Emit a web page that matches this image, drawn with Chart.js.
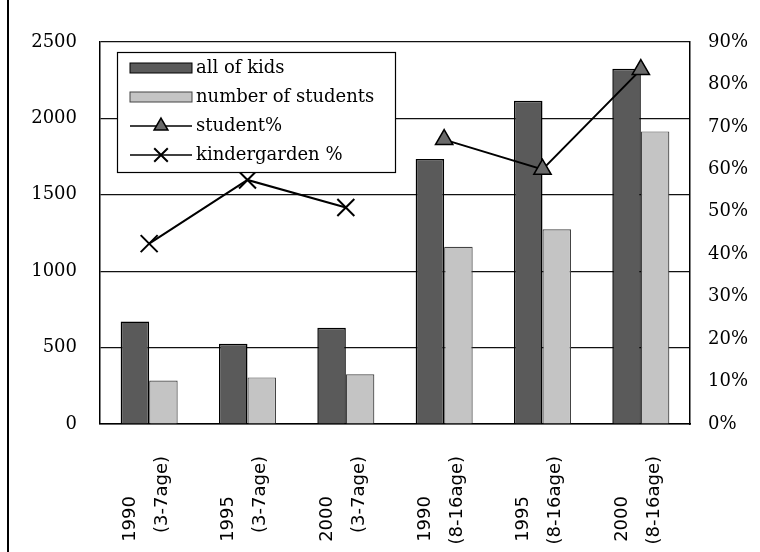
<!DOCTYPE html>
<html>
<head>
<meta charset="utf-8">
<script src="https://cdn.jsdelivr.net/npm/chart.js@4.4.1/dist/chart.umd.min.js"></script>
<style>
    html, body { margin: 0; padding: 0; background: #fff; }
    #wrap { position: relative; width: 760px; height: 552px; }
    #frame { position: absolute; left: 7px; top: 0; width: 2px; height: 552px; background: #000; }
</style>
</head>
<body>
<div id="wrap">
    <canvas id="kidsChart" width="760" height="552"></canvas>
    <div id="frame"></div>
</div>
<script>
// category labels (second line = age group); trailing spaces push the year down like the original
const categories = [
    ['1990       ', '(3-7age)'],
    ['1995       ', '(3-7age)'],
    ['2000       ', '(3-7age)'],
    ['1990       ', '(8-16age)'],
    ['1995       ', '(8-16age)'],
    ['2000       ', '(8-16age)']
];

const allKids = [670, 525, 630, 1735, 2115, 2325];
const numStudents = [285, 305, 325, 1160, 1275, 1915];
const studentPct = [null, null, null, 67, 60, 83.5];
const kinderPct = [42.5, 57.5, 51, null, null, null];

const leftTicks = [0, 500, 1000, 1500, 2000, 2500];
const rightTicks = [0, 10, 20, 30, 40, 50, 60, 70, 80, 90];

const serif = 'DejaVu Serif';

// legend box drawn inside the plot area, like the original
const boxLegend = {
    id: 'boxLegend',
    afterDraw(chart) {
        const ctx = chart.ctx;
        const area = chart.chartArea;
        const x0 = area.left + 17;
        const y0 = area.top + 10;
        const w = 278, h = 120;

        ctx.save();
        ctx.fillStyle = '#fff';
        ctx.fillRect(x0, y0, w, h);
        ctx.strokeStyle = '#000';
        ctx.lineWidth = 1.2;
        ctx.strokeRect(x0 + 0.5, y0 + 0.5, w, h);

        ctx.font = '18px "' + serif + '"';
        ctx.textBaseline = 'middle';
        ctx.fillStyle = '#000';

        chart.data.datasets.forEach((ds, i) => {
            const cy = y0 + 16 + i * 29;
            const sx = x0 + 13;
            const sw = 62;
            if (ds.type === 'line') {
                ctx.strokeStyle = '#000';
                ctx.lineWidth = 1.5;
                ctx.beginPath();
                ctx.moveTo(sx, cy);
                ctx.lineTo(sx + sw, cy);
                ctx.stroke();
                ctx.fillStyle = ds.pointBackgroundColor;
                ctx.strokeStyle = '#000';
                ctx.lineWidth = ds.pointBorderWidth;
                Chart.helpers.drawPoint(ctx, {
                    pointStyle: ds.pointStyle,
                    radius: ds.pointRadius * 0.8,
                    borderWidth: ds.pointBorderWidth,
                    rotation: 0
                }, sx + sw / 2, cy);
            } else {
                ctx.fillStyle = ds.backgroundColor;
                ctx.fillRect(sx, cy - 5, sw, 10);
                ctx.strokeStyle = ds.borderColor;
                ctx.lineWidth = 1;
                ctx.strokeRect(sx, cy - 5, sw, 10);
            }
            ctx.fillStyle = '#000';
            ctx.fillText(ds.label, sx + sw + 4, cy);
        });
        ctx.restore();
    }
};

const ctx = document.getElementById('kidsChart').getContext('2d');
const kidsChart = new Chart(ctx, {
    type: 'bar',
    data: {
        labels: categories,
        datasets: [
            {
                label: 'all of kids',
                data: allKids,
                backgroundColor: '#5a5a5a',
                borderColor: '#000',
                borderWidth: 1.5,
                yAxisID: 'y',
                order: 2
            },
            {
                label: 'number of students',
                data: numStudents,
                backgroundColor: '#c4c4c4',
                borderColor: '#444',
                borderWidth: 1.2,
                yAxisID: 'y',
                order: 2
            },
            {
                type: 'line',
                label: 'student%',
                data: studentPct,
                borderColor: '#000',
                borderWidth: 2,
                pointStyle: 'triangle',
                pointRadius: 10,
                pointBackgroundColor: '#6a6a6a',
                pointBorderColor: '#000',
                pointBorderWidth: 1.5,
                yAxisID: 'y1',
                order: 1
            },
            {
                type: 'line',
                label: 'kindergarden %',
                data: kinderPct,
                borderColor: '#000',
                borderWidth: 2,
                pointStyle: 'crossRot',
                pointRadius: 12,
                pointBackgroundColor: '#000',
                pointBorderColor: '#000',
                pointBorderWidth: 2,
                yAxisID: 'y1',
                order: 1
            }
        ]
    },
    options: {
        responsive: false,
        animation: false,
        layout: { padding: { top: 42, left: 0, right: 0, bottom: 0 } },
        datasets: {
            bar: { categoryPercentage: 0.58, barPercentage: 1.0 }
        },
        plugins: {
            legend: { display: false },
            tooltip: { enabled: false }
        },
        scales: {
            x: {
                grid: { display: false, drawTicks: false },
                border: { display: true, color: '#000', width: 1.5 },
                ticks: {
                    color: '#000',
                    minRotation: 90,
                    maxRotation: 90,
                    autoSkip: false,
                    padding: 32,
                    labelOffset: -19,
                    font: { family: 'DejaVu Sans', size: 18, lineHeight: '32px' }
                },
                afterFit: s => { s.height = 128; }
            },
            y: {
                position: 'left',
                min: leftTicks[0],
                max: leftTicks[leftTicks.length - 1],
                afterBuildTicks: s => { s.ticks = leftTicks.map(v => ({ value: v })); },
                grid: { color: '#111', lineWidth: 1.2, drawTicks: false },
                border: { display: true, color: '#000', width: 1.5 },
                ticks: {
                    color: '#000',
                    padding: 23,
                    font: { family: serif, size: 18 },
                    callback: v => String(v)
                },
                afterFit: s => { s.width = 100; }
            },
            y1: {
                position: 'right',
                min: rightTicks[0],
                max: rightTicks[rightTicks.length - 1],
                afterBuildTicks: s => { s.ticks = rightTicks.map(v => ({ value: v })); },
                grid: { drawOnChartArea: false, drawTicks: false },
                border: { display: true, color: '#000', width: 1.5 },
                ticks: {
                    color: '#000',
                    padding: 18,
                    font: { family: serif, size: 18 },
                    callback: v => v + '%'
                },
                afterFit: s => { s.width = 70; }
            }
        }
    },
    plugins: [boxLegend]
});
</script>
</body>
</html>
